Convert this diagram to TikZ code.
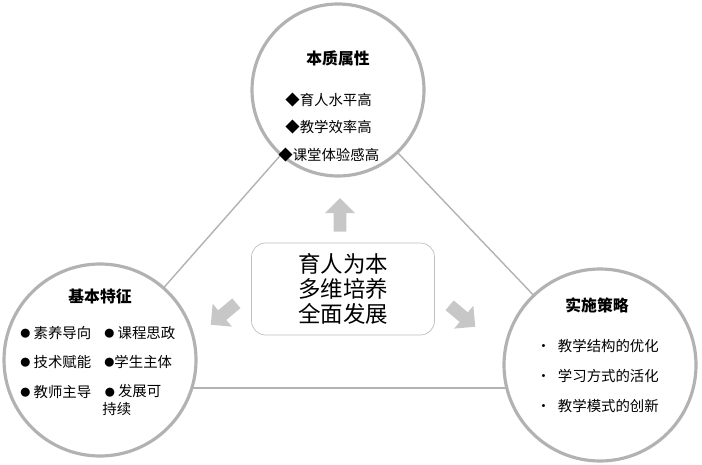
\documentclass[tikz,border=0pt]{standalone}
\usepackage{fontspec}
\setmainfont{Noto Sans CJK SC}
\usetikzlibrary{shapes.arrows}
\newcommand{\dotmark}{\raisebox{0.5pt}{\scalebox{0.7}{●}}}
\tikzset{
  topic/.style={circle,draw=black!30,line width=1.8pt,fill=white,minimum size=#1},
  head/.style={font=\fontsize{9}{10}\selectfont\bfseries},
  item/.style={anchor=west,font=\fontsize{8.2}{9.8}\selectfont,inner sep=0pt},
  pointer/.style={single arrow,fill=black!22,minimum height=19pt,minimum width=17pt,
    single arrow head extend=3pt,inner sep=2pt},
}
\begin{document}
\begin{tikzpicture}[x=0.02cm,y=-0.02cm]
\useasboundingbox (0,0) rectangle (702,465);
% triangle behind the circles
\coordinate (pt) at (338,90);
\coordinate (pl) at (100,360);
\coordinate (pr) at (600,365);
\draw[black!30,line width=0.8pt] (pt) -- (pl);
\draw[black!30,line width=0.8pt] (pt) -- (pr);
\draw[black!30,line width=0.8pt] (100,388) coordinate (bl) -- (600,388) coordinate (br);
% circles
\node[topic=172*0.02cm] (top) at (pt) {};
\node[topic=192*0.02cm] (left) at (pl) {};
\node[topic=192*0.02cm] (right) at (pr) {};
% centre
\node[draw=black!25,rounded corners=8pt,minimum width=183*0.02cm,minimum height=92*0.02cm,
  align=center,font=\fontsize{12.8}{14.2}\selectfont] (core) at (343,289)
  {育人为本\\多维培养\\全面发展};
\node[pointer,rotate=90] (up) at (340,218) {};
\node[pointer,rotate=-140] (toleft) at (226,312) {};
\node[pointer,rotate=-40] (toright) at (460,314) {};
% top circle
\node[head] (th) at (338,58) {本质属性};
\node[item] (t1) at (285,100) {◆育人水平高};
\node[item] (t2) at (285,127) {◆教学效率高};
\node[item] (t3) at (278,155) {◆课堂体验感高};
% left circle
\node[head] (lh) at (100,296) {基本特征};
\node[item] (l1) at (20,333) {\dotmark\ 素养导向};
\node[item] (l2) at (20,362) {\dotmark\ 技术赋能};
\node[item] (l3) at (20,392) {\dotmark\ 教师主导};
\node[item] (l4) at (104,333) {\dotmark\ 课程思政};
\node[item] (l5) at (104,362) {\dotmark 学生主体};
\node[item,align=left] (l6) at (102,400) {\,\dotmark\ 发展可\\持续};
% right circle
\node[head] (rh) at (597,305) {实施策略};
\node[item] (r1) at (536,346) {·\enspace 教学结构的优化};
\node[item] (r2) at (536,376) {·\enspace 学习方式的活化};
\node[item] (r3) at (536,406) {·\enspace 教学模式的创新};
\end{tikzpicture}
\end{document}
